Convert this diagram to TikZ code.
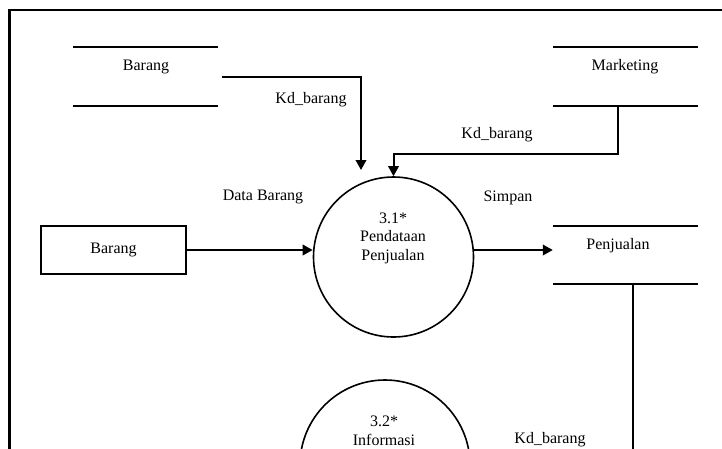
\documentclass[tikz,border=0pt]{standalone}
\usepackage{fontspec}
\setmainfont{Liberation Serif}
\usetikzlibrary{arrows.meta}
\begin{document}
\begin{tikzpicture}[x=1pt,y=-1pt,
  every node/.style={font=\fontsize{16}{18.5}\selectfont, inner sep=0pt},
  txt/.style={align=center},
  flow/.style={line width=2pt, -{Triangle[length=10pt,width=10.5pt]}},
  plainflow/.style={line width=2pt},
  storeline/.style={line width=2pt},
  store/.style={rectangle, minimum width=145pt, minimum height=59pt},
  entity/.style={rectangle, draw, line width=1.6pt, minimum width=145pt, minimum height=48pt},
  proc/.style={circle, draw, line width=1.6pt, minimum size=160pt},
  frame/.style={line width=2.2pt}]
\useasboundingbox (0,0) rectangle (722,448);
\clip (0,0) rectangle (722,448);

% outer frame
\draw[frame] (9.5,600) -- (9.5,10) -- (800,10);

% data stores
\node[store] (dsBarang) at (145.5,76.5) {};
\node[store] (dsMarketing) at (625.5,76.5) {};
\node[store, minimum height=58pt] (dsPenjualan) at (625.5,255) {};
\foreach \s in {dsBarang,dsMarketing,dsPenjualan}{
  \draw[storeline] (\s.north west) -- (\s.north east)
                   (\s.south west) -- (\s.south east);
}
\node[txt] (tBarang) at (146,67) {Barang};
\node[txt] (tMarketing) at (625,67) {Marketing};
\node[txt] (tPenjualan) at (618,246) {Penjualan};

% external entity
\node[entity] (eBarang) at (113.5,250) {Barang};

% processes
\node[proc] (p31) at (393.5,257) {};
\node[txt] (p31t) at (393,238) {3.1*\\Pendataan\\Penjualan};
\node[proc, minimum size=170pt] (p32) at (385,465) {};
\node[txt] (p32t) at (384,431) {3.2*\\Informasi};

% flow labels
\node[txt] (lKd1) at (311,100) {Kd\_barang};
\node[txt] (lKd2) at (497,135) {Kd\_barang};
\node[txt] (lKd3) at (550,440) {Kd\_barang};
\node[txt] (lData) at (263,197) {Data Barang};
\node[txt] (lSimpan) at (508,198) {Simpan};

% flows
\coordinate (kdEnd) at (361,170);
\draw[flow] ([xshift=4pt]dsBarang.east) -| (kdEnd);
\draw[flow] ([xshift=-7.5pt]dsMarketing.south) -- ++(0,48) -| (p31.north);
\draw[flow] (eBarang.east) -- (eBarang.east -| p31.west);
\draw[flow] (p31.east |- eBarang.east) -- (dsPenjualan.west |- eBarang.east);
\draw[plainflow] ([xshift=7.5pt]dsPenjualan.south) -- ++(0,220);
\end{tikzpicture}
\end{document}
